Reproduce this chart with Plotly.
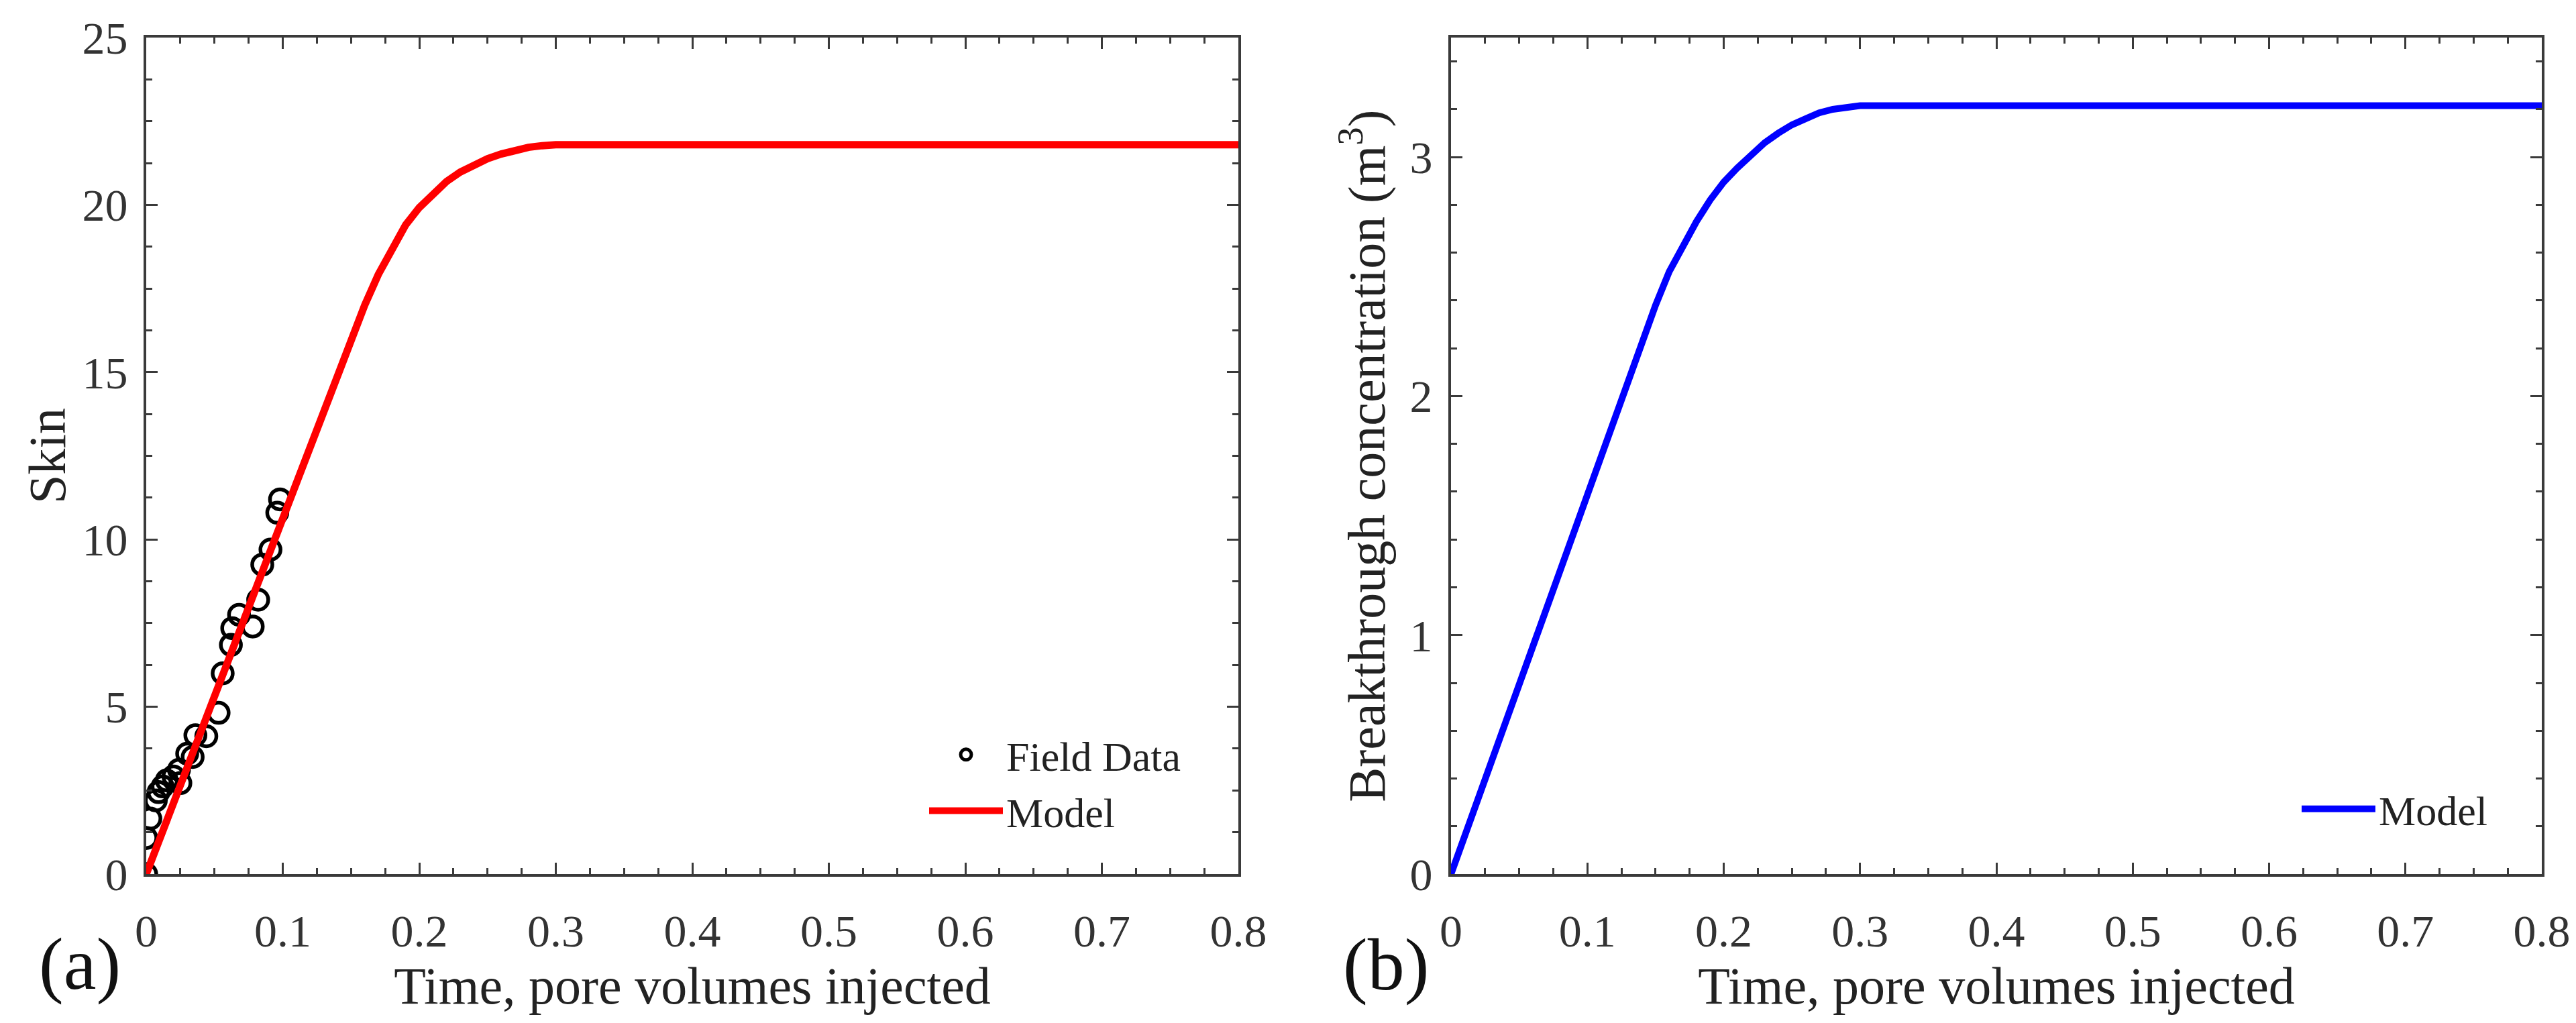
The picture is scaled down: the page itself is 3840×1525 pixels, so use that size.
import plotly.graph_objects as go

# panel (a): skin vs time
field_x = [0.000, 0.000, 0.003, 0.007, 0.009, 0.012, 0.015, 0.020, 0.025, 0.024,
           0.030, 0.034, 0.036, 0.044, 0.053, 0.056, 0.062, 0.063, 0.068, 0.078,
           0.082, 0.085, 0.091, 0.096, 0.098]
field_y = [0.0, 1.08, 1.66, 2.2, 2.45, 2.62, 2.8, 2.92, 2.72, 3.12,
           3.6, 3.5, 4.15, 4.12, 4.82, 6.0, 6.85, 7.35, 7.75, 7.4,
           8.2, 9.25, 9.7, 10.8, 11.2]

model_a_x = [0, 0.05, 0.10, 0.12, 0.14, 0.15, 0.16, 0.17, 0.18, 0.19, 0.20,
             0.21, 0.22, 0.23, 0.24, 0.25, 0.26, 0.27, 0.28, 0.29, 0.30, 0.80]
model_a_y = [0, 5.35, 10.7, 12.8, 14.95, 16.0, 17.0, 17.92, 18.72, 19.4, 19.92,
             20.35, 20.7, 20.98, 21.2, 21.38, 21.52, 21.64, 21.72, 21.77, 21.8, 21.8]

# panel (b): breakthrough concentration vs time
model_b_x = [0, 0.05, 0.10, 0.125, 0.15, 0.16, 0.17, 0.18, 0.19, 0.20, 0.21,
             0.22, 0.23, 0.24, 0.25, 0.26, 0.27, 0.28, 0.29, 0.30, 0.80]
model_b_y = [0, 0.8, 1.6, 2.0, 2.38, 2.52, 2.63, 2.73, 2.82, 2.895, 2.955,
             3.01, 3.06, 3.10, 3.135, 3.16, 3.185, 3.20, 3.21, 3.215, 3.215]

x_ticks = [0, 0.1, 0.2, 0.3, 0.4, 0.5, 0.6, 0.7, 0.8]
x_tick_text = ['0', '0.1', '0.2', '0.3', '0.4', '0.5', '0.6', '0.7', '0.8']

FONT = 'Liberation Serif'
AXIS_COLOR = '#3a3a3a'

fig = go.Figure()

fig.add_trace(go.Scatter(
    x=field_x, y=field_y, mode='markers', name='Field Data',
    marker=dict(symbol='circle-open', size=30, color='black', line=dict(width=5.5, color='black')),
    xaxis='x', yaxis='y', legend='legend'))

fig.add_trace(go.Scatter(
    x=model_a_x, y=model_a_y, mode='lines', name='Model',
    line=dict(color='#ff0000', width=11),
    xaxis='x', yaxis='y', legend='legend'))

fig.add_trace(go.Scatter(
    x=model_b_x, y=model_b_y, mode='lines', name='Model',
    line=dict(color='#0000ff', width=10),
    xaxis='x2', yaxis='y2', legend='legend2'))


def axis_style(**kw):
    d = dict(
        showline=True, linecolor=AXIS_COLOR, linewidth=4, mirror='allticks',
        ticks='inside', ticklen=17, tickwidth=3, tickcolor=AXIS_COLOR,
        showgrid=False, zeroline=False,
        tickfont=dict(family=FONT, size=68, color='#333333'),
        title_font=dict(family=FONT, size=78, color='#222222'),
        automargin=False,
    )
    d.update(kw)
    return d


minor_x = dict(dtick=0.025, ticks='inside', ticklen=9, tickwidth=3, tickcolor=AXIS_COLOR)

fig.update_layout(
    width=3840, height=1525,
    margin=dict(l=0, r=0, t=0, b=0),
    paper_bgcolor='white', plot_bgcolor='white',
    font=dict(family=FONT, color='#222222'),
    xaxis=axis_style(domain=[210 / 3840, 1838 / 3840], range=[0, 0.8], anchor='y',
                     tickvals=x_ticks, ticktext=x_tick_text, minor=minor_x,
                     ticklabelstandoff=22,
                     title=dict(text='Time, pore volumes injected', standoff=10)),
    yaxis=axis_style(domain=[0.1508, 0.9685], range=[0, 25], anchor='x',
                     tickvals=[0, 5, 10, 15, 20, 25],
                     minor=dict(dtick=1.25, ticks='inside', ticklen=9, tickwidth=3, tickcolor=AXIS_COLOR),
                     ticklabelstandoff=10,
                     title=dict(text='Skin', standoff=0)),
    xaxis2=axis_style(domain=[2155 / 3840, 3781 / 3840], range=[0, 0.8], anchor='y2',
                      tickvals=x_ticks, ticktext=x_tick_text, minor=minor_x,
                      ticklabelstandoff=22,
                      title=dict(text='Time, pore volumes injected', standoff=10)),
    yaxis2=axis_style(domain=[0.1508, 0.9685], range=[0, 3.5], anchor='x2',
                      tickvals=[0, 1, 2, 3],
                      minor=dict(dtick=0.2, ticks='inside', ticklen=9, tickwidth=3, tickcolor=AXIS_COLOR),
                      ticklabelstandoff=10,
                      title=dict(text='Breakthrough concentration (m<sup>3</sup>)', standoff=12)),
    legend=dict(x=1372 / 3840, y=1 - 1070 / 1525, xanchor='left', yanchor='top',
                itemwidth=110, bgcolor='rgba(0,0,0,0)',
                font=dict(family=FONT, size=62, color='#222222')),
    legend2=dict(x=3418 / 3840, y=1 - 1151 / 1525, xanchor='left', yanchor='top',
                 itemwidth=110, bgcolor='rgba(0,0,0,0)',
                 font=dict(family=FONT, size=62, color='#222222')),
    annotations=[
        dict(text='(a)', x=111 / 3840, y=1 - 1429 / 1525, xref='paper', yref='paper',
             xanchor='center', yanchor='middle', showarrow=False,
             font=dict(family=FONT, size=110, color='#111111')),
        dict(text='(b)', x=2058 / 3840, y=1 - 1430 / 1525, xref='paper', yref='paper',
             xanchor='center', yanchor='middle', showarrow=False,
             font=dict(family=FONT, size=110, color='#111111')),
    ],
)

fig.write_html('out.html')
